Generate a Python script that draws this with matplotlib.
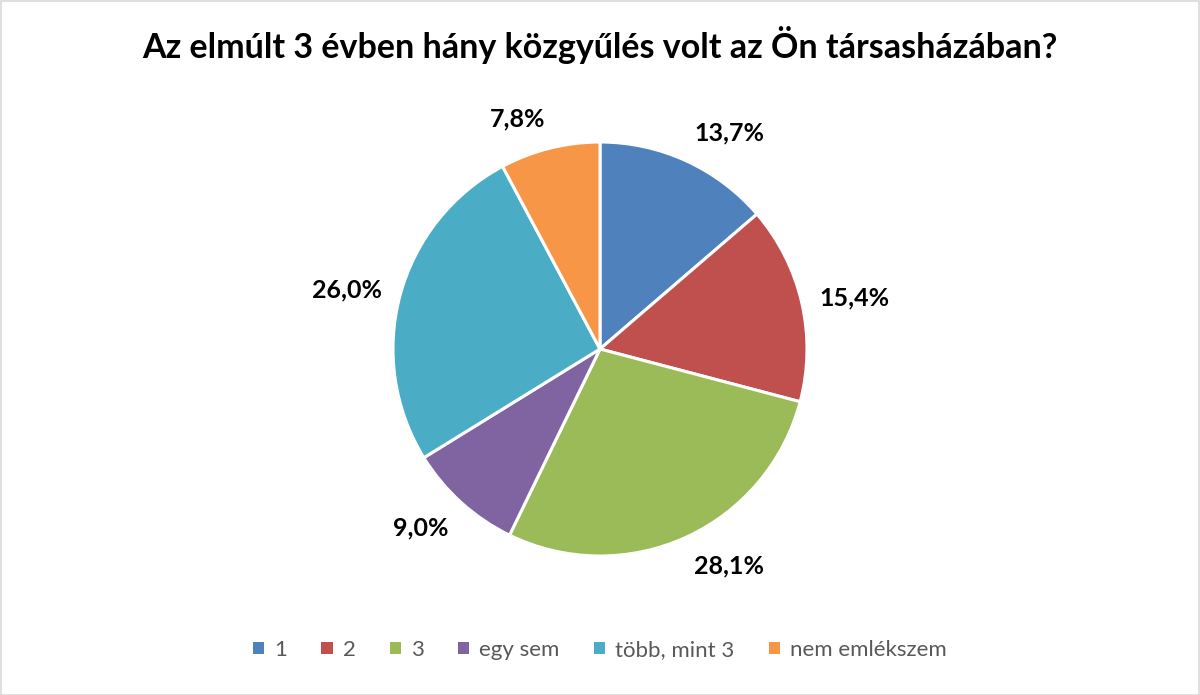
import numpy as np
import matplotlib.pyplot as plt
from matplotlib.patches import Patch, Rectangle

# data
categories = ['1', '2', '3', 'egy sem', 'több, mint 3', 'nem emlékszem']
shares = [13.7, 15.4, 28.1, 9.0, 26.0, 7.8]
colors = ['#4F81BD', '#C0504D', '#9BBB59', '#8064A2', '#4BACC6', '#F79646']
title = 'Az elmúlt 3 évben hány közgyűlés volt az Ön társasházában?'

plt.rcParams['font.family'] = ['Lato', 'DejaVu Sans']

fig = plt.figure(figsize=(12, 6.95), dpi=100)
W, H = 1200, 695
cx, cy, r = 600, 349, 207
ax = fig.add_axes([(cx - r) / W, (H - cy - r) / H, 2 * r / W, 2 * r / H])

def fmt(p):
    return f'{p:.1f}%'.replace('.', ',')

wedges, _ = ax.pie(shares, colors=colors, startangle=90, counterclock=False, radius=1,
                   wedgeprops=dict(edgecolor='white', linewidth=2.2))
ax.set_xlim(-1, 1)
ax.set_ylim(-1, 1)
ax.set_aspect('equal')
ax.axis('off')

# outside-end labels
for w, v in zip(wedges, shares):
    ang = np.deg2rad((w.theta1 + w.theta2) / 2)
    c, s = np.cos(ang), np.sin(ang)
    ha = 'left' if c > 0 else 'right'
    if abs(s) < 0.5:
        va = 'center'
    else:
        va = 'bottom' if s > 0 else 'top'
    ax.text(1.09 * c, 1.09 * s, fmt(v), ha=ha, va=va,
            fontsize=18, fontweight='bold', color='black')

fig.text(0.5, 1 - 45 / H, title, ha='center', va='center',
         fontsize=24.5, fontweight='bold', color='black')

handles = [Patch(facecolor=c, edgecolor='none') for c in colors]
leg = fig.legend(handles, categories, loc='center', bbox_to_anchor=(0.5, 1 - 650 / H),
                 ncol=6, frameon=False, fontsize=16, handlelength=0.5, handleheight=0.5,
                 handletextpad=0.45, columnspacing=1.55)
for t in leg.get_texts():
    t.set_color('#595959')

fig.patches.append(Rectangle((0.5 / W, 0.5 / H), 1 - 1.5 / W, 1 - 1.5 / H,
                             transform=fig.transFigure, fill=False,
                             edgecolor='#D9D9D9', linewidth=1.2))

fig.savefig('out.png', dpi=100)
